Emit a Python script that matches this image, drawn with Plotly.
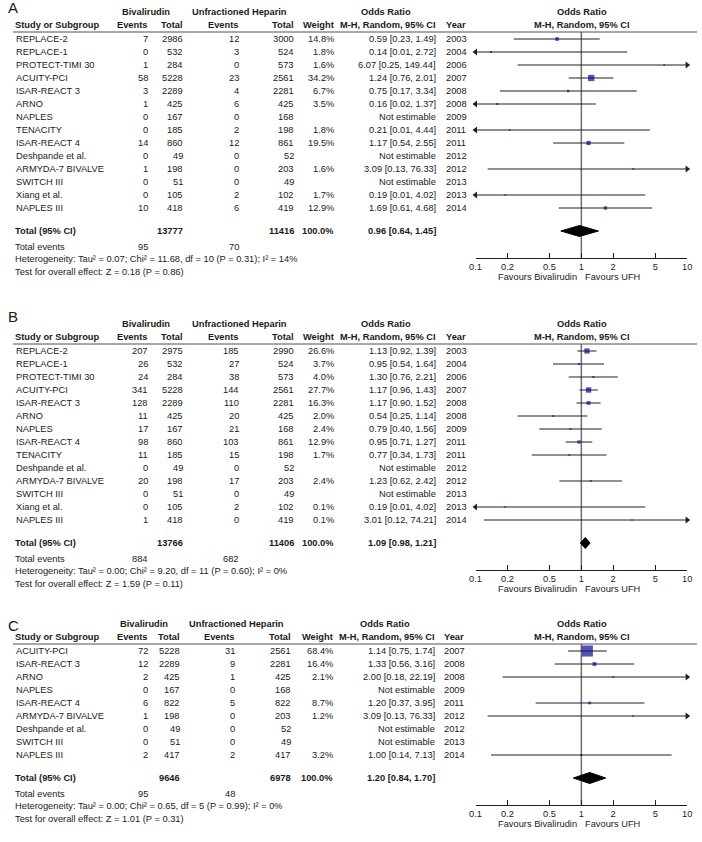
import plotly.graph_objects as go

W, H = 702, 842

# ---------------- Panel A data ----------------
a_studies = ["REPLACE-2", "REPLACE-1", "PROTECT-TIMI 30", "ACUITY-PCI", "ISAR-REACT 3", "ARNO", "NAPLES",
             "TENACITY", "ISAR-REACT 4", "Deshpande et al.", "ARMYDA-7 BIVALVE", "SWITCH III", "Xiang et al.", "NAPLES III"]
a_biv_events = [7, 0, 1, 58, 3, 1, 0, 0, 14, 0, 1, 0, 0, 10]
a_biv_total = [2986, 532, 284, 5228, 2289, 425, 167, 185, 860, 49, 198, 51, 105, 418]
a_ufh_events = [12, 3, 0, 23, 4, 6, 0, 2, 12, 0, 0, 0, 2, 6]
a_ufh_total = [3000, 524, 573, 2561, 2281, 425, 168, 198, 861, 52, 203, 49, 102, 419]
a_weight = [14.8, 1.8, 1.6, 34.2, 6.7, 3.5, None, 1.8, 19.5, None, 1.6, None, 1.7, 12.9]
a_or = [0.59, 0.14, 6.07, 1.24, 0.75, 0.16, None, 0.21, 1.17, None, 3.09, None, 0.19, 1.69]
a_lo = [0.23, 0.01, 0.25, 0.76, 0.17, 0.02, None, 0.01, 0.54, None, 0.13, None, 0.01, 0.61]
a_hi = [1.49, 2.72, 149.44, 2.01, 3.34, 1.37, None, 4.44, 2.55, None, 76.33, None, 4.02, 4.68]
a_year = [2003, 2004, 2006, 2007, 2008, 2008, 2009, 2011, 2011, 2012, 2012, 2013, 2013, 2014]
a_totals = [13777, 11416]
a_events = [95, 70]
a_pooled = [0.96, 0.64, 1.45]
a_het = "Heterogeneity: Tau² = 0.07; Chi² = 11.68, df = 10 (P = 0.31); I² = 14%"
a_test = "Test for overall effect: Z = 0.18 (P = 0.86)"

# ---------------- Panel B data ----------------
b_studies = ["REPLACE-2", "REPLACE-1", "PROTECT-TIMI 30", "ACUITY-PCI", "ISAR-REACT 3", "ARNO", "NAPLES",
             "ISAR-REACT 4", "TENACITY", "Deshpande et al.", "ARMYDA-7 BIVALVE", "SWITCH III", "Xiang et al.", "NAPLES III"]
b_biv_events = [207, 26, 24, 341, 128, 11, 17, 98, 11, 0, 20, 0, 0, 1]
b_biv_total = [2975, 532, 284, 5228, 2289, 425, 167, 860, 185, 49, 198, 51, 105, 418]
b_ufh_events = [185, 27, 38, 144, 110, 20, 21, 103, 15, 0, 17, 0, 2, 0]
b_ufh_total = [2990, 524, 573, 2561, 2281, 425, 168, 861, 198, 52, 203, 49, 102, 419]
b_weight = [26.6, 3.7, 4.0, 27.7, 16.3, 2.0, 2.4, 12.9, 1.7, None, 2.4, None, 0.1, 0.1]
b_or = [1.13, 0.95, 1.30, 1.17, 1.17, 0.54, 0.79, 0.95, 0.77, None, 1.23, None, 0.19, 3.01]
b_lo = [0.92, 0.54, 0.76, 0.96, 0.90, 0.25, 0.40, 0.71, 0.34, None, 0.62, None, 0.01, 0.12]
b_hi = [1.39, 1.64, 2.21, 1.43, 1.52, 1.14, 1.56, 1.27, 1.73, None, 2.42, None, 4.02, 74.21]
b_year = [2003, 2004, 2006, 2007, 2008, 2008, 2009, 2011, 2011, 2012, 2012, 2013, 2013, 2014]
b_totals = [13766, 11406]
b_events = [884, 682]
b_pooled = [1.09, 0.98, 1.21]
b_het = "Heterogeneity: Tau² = 0.00; Chi² = 9.20, df = 11 (P = 0.60); I² = 0%"
b_test = "Test for overall effect: Z = 1.59 (P = 0.11)"

# ---------------- Panel C data ----------------
c_studies = ["ACUITY-PCI", "ISAR-REACT 3", "ARNO", "NAPLES", "ISAR-REACT 4", "ARMYDA-7 BIVALVE",
             "Deshpande et al.", "SWITCH III", "NAPLES III"]
c_biv_events = [72, 12, 2, 0, 6, 1, 0, 0, 2]
c_biv_total = [5228, 2289, 425, 167, 822, 198, 49, 51, 417]
c_ufh_events = [31, 9, 1, 0, 5, 0, 0, 0, 2]
c_ufh_total = [2561, 2281, 425, 168, 822, 203, 52, 49, 417]
c_weight = [68.4, 16.4, 2.1, None, 8.7, 1.2, None, None, 3.2]
c_or = [1.14, 1.33, 2.00, None, 1.20, 3.09, None, None, 1.00]
c_lo = [0.75, 0.56, 0.18, None, 0.37, 0.13, None, None, 0.14]
c_hi = [1.74, 3.16, 22.19, None, 3.95, 76.33, None, None, 7.13]
c_year = [2007, 2008, 2008, 2009, 2011, 2012, 2012, 2013, 2014]
c_totals = [9646, 6978]
c_events = [95, 48]
c_pooled = [1.20, 0.84, 1.70]
c_het = "Heterogeneity: Tau² = 0.00; Chi² = 0.65, df = 5 (P = 0.99); I² = 0%"
c_test = "Test for overall effect: Z = 1.01 (P = 0.31)"

tick_vals = [0.1, 0.2, 0.5, 1, 2, 5, 10]
tick_text = ["0.1", "0.2", "0.5", "1", "2", "5", "10"]

# ---------------- styling / layout ----------------
FONT = "Liberation Sans, Arial, Helvetica, sans-serif"
FS = 9.3
TXT = "#1a1a1a"
SQ = "#0a0a96"
LINEC = "#202020"
X0, X1 = 477, 692  # pixel extent of the odds-ratio axis

colsAB = dict(name=9, be=144, bt=180, ue=237, ut=293, w=333, orr=437, yr=447, hb=142, hu=237, hor=386)
colsC = dict(name=9, be=144, bt=177, ue=233, ut=290, w=332, orr=436, yr=445, hb=140, hu=234, hor=385)

panels = [
    dict(letter="A", ly=7, y0=12, cols=colsAB, ax="x", studies=a_studies, be=a_biv_events, bt=a_biv_total,
         ue=a_ufh_events, ut=a_ufh_total, w=a_weight, orr=a_or, lo=a_lo, hi=a_hi, yr=a_year,
         tot=a_totals, ev=a_events, pooled=a_pooled, het=a_het, test=a_test),
    dict(letter="B", ly=316, y0=324, cols=colsAB, ax="x2", studies=b_studies, be=b_biv_events, bt=b_biv_total,
         ue=b_ufh_events, ut=b_ufh_total, w=b_weight, orr=b_or, lo=b_lo, hi=b_hi, yr=b_year,
         tot=b_totals, ev=b_events, pooled=b_pooled, het=b_het, test=b_test),
    dict(letter="C", ly=625, y0=624, cols=colsC, ax="x3", studies=c_studies, be=c_biv_events, bt=c_biv_total,
         ue=c_ufh_events, ut=c_ufh_total, w=c_weight, orr=c_or, lo=c_lo, hi=c_hi, yr=c_year,
         tot=c_totals, ev=c_events, pooled=c_pooled, het=c_het, test=c_test),
]

annotations = []
shapes = []


def txt(x, y, s, anchor="left", bold=False, size=FS):
    if bold:
        s = f"<b>{s}</b>"
    annotations.append(dict(x=x / W, y=y, xref="paper", yref="y", text=s, xanchor=anchor, yanchor="middle",
                            showarrow=False, borderpad=0, borderwidth=0,
                            font=dict(family=FONT, size=size, color=TXT)))


fig = go.Figure()
axis_layout = {}

for i, p in enumerate(panels):
    c = p["cols"]
    y0 = p["y0"]
    y_h2 = y0 + 13
    y_line = y0 + 20
    n = len(p["studies"])
    rows = [y0 + 27 + 13 * k for k in range(n)]
    y_last = rows[-1]
    y_tot = y_last + 23
    y_ev = y_last + 39
    y_het = y_last + 51
    y_test = y_last + 64
    y_axis = y_last + 50

    # panel letter
    txt(2, p["ly"], p["letter"], size=15)
    # headers
    txt(c["hb"], y0, "Bivalirudin", "center", True)
    txt(c["hu"], y0, "Unfractioned Heparin", "center", True)
    txt(c["hor"], y0, "Odds Ratio", "center", True)
    txt((X0 + X1) / 2 + 0.5, y0, "Odds Ratio", "center", True)
    txt(c["name"], y_h2, "Study or Subgroup", "left", True)
    txt(c["be"], y_h2, "Events", "right", True)
    txt(c["bt"], y_h2, "Total", "right", True)
    txt(c["ue"], y_h2, "Events", "right", True)
    txt(c["ut"], y_h2, "Total", "right", True)
    txt(c["w"], y_h2, "Weight", "right", True)
    txt(c["orr"], y_h2, "M-H, Random, 95% CI", "right", True)
    txt(c["yr"], y_h2, "Year", "left", True)
    txt((X0 + X1) / 2 + 0.5, y_h2, "M-H, Random, 95% CI", "center", True)
    shapes.append(dict(type="line", xref="paper", yref="y", x0=7 / W, x1=1, y0=y_line, y1=y_line,
                       line=dict(color="#505050", width=1)))

    # study rows
    for k in range(n):
        y = rows[k]
        txt(c["name"] + 1, y, p["studies"][k])
        txt(c["be"], y, str(p["be"][k]), "right")
        txt(c["bt"], y, str(p["bt"][k]), "right")
        txt(c["ue"], y, str(p["ue"][k]), "right")
        txt(c["ut"], y, str(p["ut"][k]), "right")
        if p["w"][k] is not None:
            txt(c["w"], y, f"{p['w'][k]:.1f}%", "right")
        if p["orr"][k] is not None:
            txt(c["orr"], y, f"{p['orr'][k]:.2f} [{p['lo'][k]:.2f}, {p['hi'][k]:.2f}]", "right")
        else:
            txt(c["orr"], y, "Not estimable", "right")
        txt(c["yr"], y, str(p["yr"][k]))

    # totals
    txt(c["name"], y_tot, "Total (95% CI)", "left", True)
    txt(c["bt"], y_tot, str(p["tot"][0]), "right", True)
    txt(c["ut"], y_tot, str(p["tot"][1]), "right", True)
    txt(c["w"], y_tot, "100.0%", "right", True)
    pe, pl, ph = p["pooled"]
    txt(c["orr"], y_tot, f"{pe:.2f} [{pl:.2f}, {ph:.2f}]", "right", True)
    txt(c["name"], y_ev, "Total events")
    txt(c["be"], y_ev, str(p["ev"][0]), "right")
    txt(c["ue"], y_ev, str(p["ev"][1]), "right")
    txt(c["name"], y_het, p["het"])
    txt(c["name"], y_test, p["test"])
    txt(580, y_axis + 19, "Favours Bivalirudin", "right")
    txt(588, y_axis + 19, "Favours UFH", "left")

    ax = p["ax"]
    # line of no effect
    fig.add_trace(go.Scatter(x=[1, 1], y=[y_line, y_axis], mode="lines", xaxis=ax, yaxis="y",
                             line=dict(color="#6e6e6e", width=1.5), hoverinfo="skip"))
    # CI lines
    cx, cy = [], []
    lx, ly, rx, ry = [], [], [], []
    sx, sy, ss = [], [], []
    for k in range(n):
        if p["orr"][k] is None:
            continue
        lo = max(p["lo"][k], tick_vals[0])
        hi = min(p["hi"][k], tick_vals[-1])
        cx += [lo, hi, None]
        cy += [rows[k], rows[k], None]
        if p["lo"][k] < tick_vals[0]:
            lx.append(tick_vals[0]); ly.append(rows[k])
        if p["hi"][k] > tick_vals[-1]:
            rx.append(tick_vals[-1]); ry.append(rows[k])
        sx.append(p["orr"][k]); sy.append(rows[k])
        ss.append(1.5 + 0.14 * p["w"][k])
    fig.add_trace(go.Scatter(x=cx, y=cy, mode="lines", xaxis=ax, yaxis="y",
                             line=dict(color=LINEC, width=1), hoverinfo="skip", cliponaxis=False))
    fig.add_trace(go.Scatter(x=lx, y=ly, mode="markers", xaxis=ax, yaxis="y", cliponaxis=False,
                             marker=dict(symbol="triangle-left", size=6, color=LINEC), hoverinfo="skip"))
    fig.add_trace(go.Scatter(x=rx, y=ry, mode="markers", xaxis=ax, yaxis="y", cliponaxis=False,
                             marker=dict(symbol="triangle-right", size=6, color=LINEC), hoverinfo="skip"))
    fig.add_trace(go.Scatter(x=sx, y=sy, mode="markers", xaxis=ax, yaxis="y", cliponaxis=False,
                             marker=dict(symbol="square", size=ss, color=SQ, line=dict(width=0)),
                             hoverinfo="skip"))
    # pooled diamond
    fig.add_trace(go.Scatter(x=[pl, pe, ph, pe, pl], y=[y_tot, y_tot - 5.5, y_tot, y_tot + 5.5, y_tot],
                             mode="lines", fill="toself", fillcolor="black", line=dict(color="black", width=1),
                             xaxis=ax, yaxis="y", hoverinfo="skip"))

    key = "xaxis" if ax == "x" else "xaxis" + ax[1:]
    cfg = dict(type="log", range=[-1, 1], domain=[X0 / W, X1 / W], anchor="free", position=1 - y_axis / H,
               showline=True, linecolor="#202020", linewidth=1, ticks="inside", ticklen=5, tickwidth=1,
               tickcolor="#202020", tickvals=tick_vals, ticktext=tick_text, showgrid=False, zeroline=False,
               tickfont=dict(family=FONT, size=FS, color=TXT), fixedrange=True)
    if ax != "x":
        cfg["overlaying"] = "x"
    axis_layout[key] = cfg

fig.update_layout(
    width=W, height=H, margin=dict(l=0, r=0, t=0, b=0),
    paper_bgcolor="white", plot_bgcolor="white", showlegend=False,
    yaxis=dict(domain=[0, 1], range=[H, 0], visible=False, fixedrange=True),
    annotations=annotations, shapes=shapes,
    **axis_layout,
)

fig.write_html("out.html", config={"displayModeBar": False},
               post_script="document.body.style.margin='0';document.body.style.overflow='hidden';")
